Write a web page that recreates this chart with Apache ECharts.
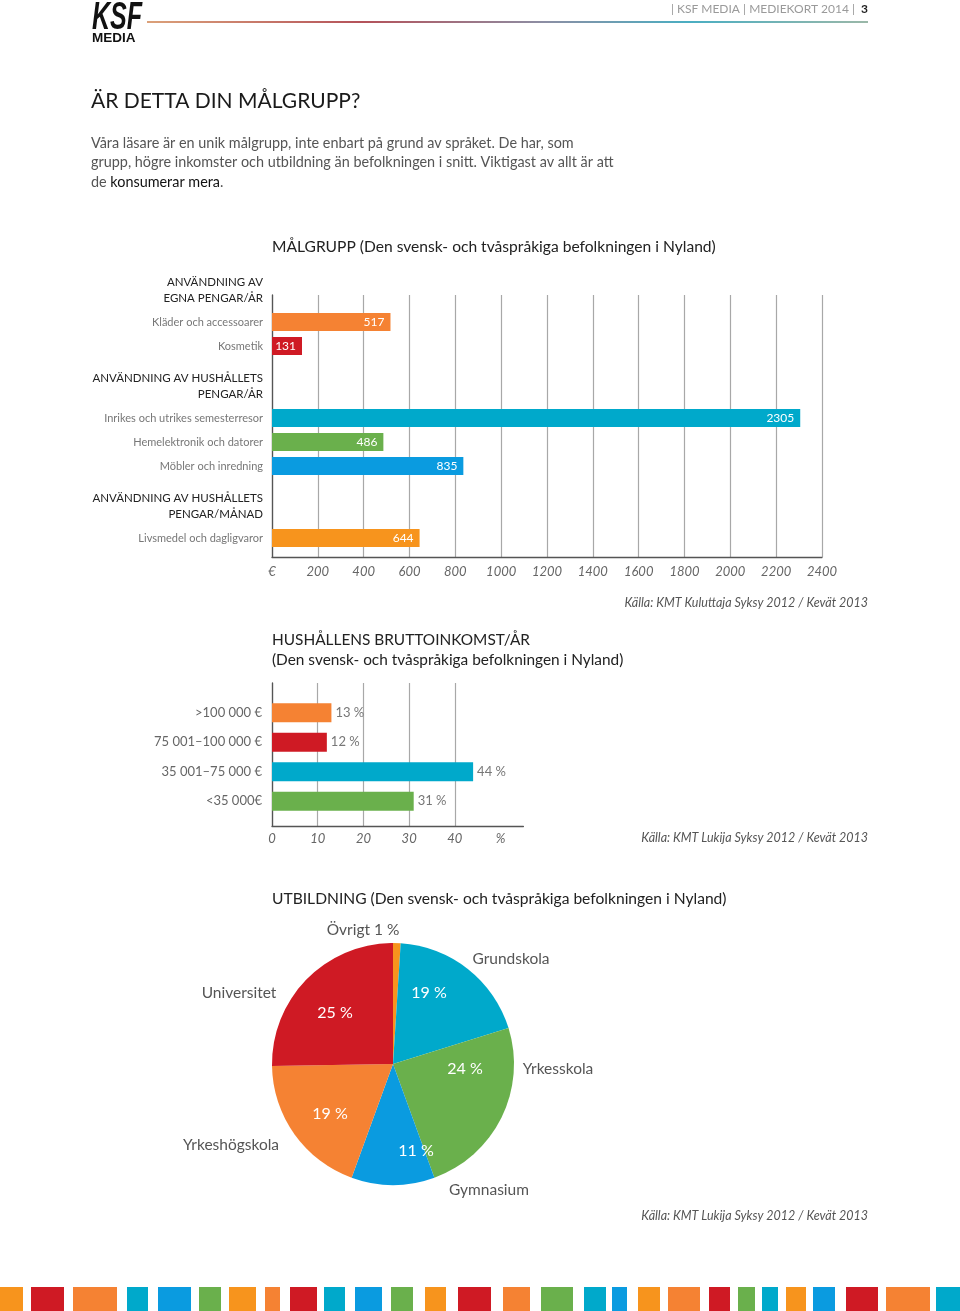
<!DOCTYPE html>
<html><head><meta charset="utf-8">
<script src="https://cdn.jsdelivr.net/npm/echarts@6/dist/echarts.min.js"></script>
<style>html,body{margin:0;padding:0;background:#fff}#c{width:960px;height:1311px}</style>
</head><body><div id="c"></div>
<script>
// ---------- DATA ----------
const spendGroupTitles = ['ANVÄNDNING AV\nEGNA PENGAR/ÅR', 'ANVÄNDNING AV HUSHÅLLETS\nPENGAR/ÅR', 'ANVÄNDNING AV HUSHÅLLETS\nPENGAR/MÅNAD'];
const spendGroupItems = [
  ['Kläder och accessoarer', 'Kosmetik'],
  ['Inrikes och utrikes semesterresor', 'Hemelektronik och datorer', 'Möbler och inredning'],
  ['Livsmedel och dagligvaror']
];
const spendGroupValues = [[517, 131], [2305, 486, 835], [644]];
const spendTicks = [0, 200, 400, 600, 800, 1000, 1200, 1400, 1600, 1800, 2000, 2200, 2400];

const incomeCats = ['>100 000 €', '75 001–100 000 €', '35 001–75 000 €', '<35 000€'];
const incomeVals = [13, 12, 44, 31];
const incomeTicks = ['0', '10', '20', '30', '40', '%'];

const eduNames = ['Övrigt', 'Grundskola', 'Yrkesskola', 'Gymnasium', 'Yrkeshögskola', 'Universitet'];
const eduVals = [1, 19, 24, 11, 19, 25];

// ---------- STYLE ----------
const C = { Y: '#f7941d', R: '#cf1a24', O: '#f58233', T: '#00a9cb', B: '#0a9be0', G: '#6ab04c' };
const spendColors = [[C.O, C.R], [C.T, C.G, C.B], [C.Y]];
const incomeColors = [C.O, C.R, C.T, C.G];
const eduColors = [C.Y, C.T, C.G, C.B, C.O, C.R];
const FONT = 'Lato, "Open Sans", sans-serif';

// pie label placement (offsets from pie centre)
const PIE_C = [393, 1064], PIE_R = 121;
const pieInnerOff = [[0, 0], [36, -71], [72, 5], [23, 87], [-63, 50], [-58, -51]];
const pieOuterOff = [[-30, -134], [118, -105], [165, 5], [96, 126], [-162, 81], [-154, -71]];

// decorative strip at bottom
const strip = [[0,23,'Y'],[31,64,'R'],[73,117,'O'],[127,148,'T'],[158,191,'B'],[199,221,'G'],[229,256,'Y'],[265,280,'O'],[290,317,'R'],[324,345,'T'],[355,382,'B'],[391,413,'G'],[425,446,'Y'],[458,491,'R'],[503,530,'O'],[541,573,'G'],[584,606,'T'],[612,627,'B'],[638,660,'Y'],[668,700,'O'],[709,730,'R'],[738,755,'G'],[762,778,'T'],[786,806,'Y'],[813,835,'B'],[846,878,'R'],[886,930,'O'],[936,960,'T']];

// ---------- BUILD ----------
const spendCats = [], spendData = [];
spendGroupTitles.forEach((t, gi) => {
  if (gi > 0) { spendCats.push(''); spendData.push(null); }
  spendCats.push('#H#' + t); spendData.push(null);
  spendGroupItems[gi].forEach((name, i) => {
    spendCats.push(name);
    spendData.push({ value: spendGroupValues[gi][i], itemStyle: { color: spendColors[gi][i] } });
  });
});

function txt(text, x, y, o) {
  o = o || {};
  return {
    type: 'text', x: x, y: y, silent: true, scaleX: o.scaleX || 1,
    style: {
      text: text, fill: o.fill || '#333', fontSize: o.size || 14, fontFamily: o.family || FONT,
      fontWeight: o.weight || 'normal', fontStyle: o.style || 'normal',
      textAlign: o.align || 'left', textVerticalAlign: 'middle', rich: o.rich
    }
  };
}

const graphics = [
  txt('KSF', 92, 19, { size: 38, weight: 'bold', style: 'italic', family: '"Liberation Sans", Arial', fill: '#111', scaleX: 0.66 }),
  txt('MEDIA', 92, 38, { size: 13.5, weight: 'bold', family: '"Liberation Sans", Arial', fill: '#111' }),
  {
    type: 'text', x: 868, y: 9, silent: true,
    style: { text: '{a|| KSF MEDIA | MEDIEKORT 2014 | }{b|3}', textAlign: 'right', textVerticalAlign: 'middle',
      rich: { a: { fontSize: 12, fill: '#9a9a9a', fontFamily: FONT }, b: { fontSize: 12, fill: '#222', fontWeight: 'bold', fontFamily: FONT, padding: [0, 0, 0, 3] } } }
  },
  {
    type: 'line', silent: true, shape: { x1: 147, y1: 22, x2: 868, y2: 22 },
    style: { lineWidth: 2, stroke: { type: 'linear', x: 0, y: 0, x2: 1, y2: 0, colorStops: [
      { offset: 0, color: '#dca27a' }, { offset: 0.3, color: '#b4525a' }, { offset: 0.55, color: '#8c8ea4' },
      { offset: 0.75, color: '#4aaec2' }, { offset: 1, color: '#9cb8a8' }] } }
  },
  txt('ÄR DETTA DIN MÅLGRUPP?', 91, 101, { size: 21, fill: '#1a1a1a' }),
  txt('Våra läsare är en unik målgrupp, inte enbart på grund av språket. De har, som', 91, 143, { size: 14.4, fill: '#555' }),
  txt('grupp, högre inkomster och utbildning än befolkningen i snitt. Viktigast av allt är att', 91, 162, { size: 14.4, fill: '#555' }),
  {
    type: 'text', x: 91, y: 182, silent: true,
    style: { text: '{a|de }{b|konsumerar mera}{a|.}', textVerticalAlign: 'middle',
      rich: { a: { fontSize: 14.4, fill: '#555', fontFamily: FONT }, b: { fontSize: 14.4, fill: '#111', fontFamily: FONT } } }
  },
  txt('MÅLGRUPP (Den svensk- och tvåspråkiga befolkningen i Nyland)', 272, 247, { size: 15.6, fill: '#222' }),
  txt('Källa: KMT Kuluttaja Syksy 2012 / Kevät 2013', 868, 603, { size: 12.5, fill: '#555', style: 'italic', align: 'right' }),
  txt('HUSHÅLLENS BRUTTOINKOMST/ÅR', 272, 640, { size: 15.4, fill: '#222' }),
  txt('(Den svensk- och tvåspråkiga befolkningen i Nyland)', 272, 660, { size: 15.4, fill: '#222' }),
  txt('Källa: KMT Lukija Syksy 2012 / Kevät 2013', 868, 838, { size: 12.5, fill: '#555', style: 'italic', align: 'right' }),
  txt('UTBILDNING (Den svensk- och tvåspråkiga befolkningen i Nyland)', 272, 899, { size: 15.6, fill: '#222' }),
  txt('Källa: KMT Lukija Syksy 2012 / Kevät 2013', 868, 1216, { size: 12.5, fill: '#555', style: 'italic', align: 'right' })
];
strip.forEach(s => graphics.push({ type: 'rect', silent: true, shape: { x: s[0], y: 1287, width: s[1] - s[0], height: 24 }, style: { fill: C[s[2]] } }));

const tickLbl = { fontStyle: 'italic', color: '#666', fontSize: 13, fontFamily: FONT };

const option = {
  animation: false,
  backgroundColor: '#fff',
  grid: [
    { left: 272, top: 295, width: 550, height: 262 },
    { left: 272, top: 286, width: 550, height: 264 },
    { left: 272, top: 683, width: 251.4, height: 143 },
    { left: 272, top: 683, width: 182.8, height: 143 },
    { left: 272, top: 698, width: 251.4, height: 118 }
  ],
  xAxis: [
    { gridIndex: 0, type: 'value', min: 0, max: 2400, interval: 200,
      axisLine: { show: true, lineStyle: { color: '#555', width: 1.3 } }, axisTick: { show: false },
      splitLine: { show: true, lineStyle: { color: '#a8a8a8', width: 1.2 } },
      axisLabel: Object.assign({ margin: 8, formatter: v => { const i = spendTicks.indexOf(v); return i === 0 ? '€' : (i > 0 ? String(v) : ''); } }, tickLbl) },
    { gridIndex: 1, type: 'value', min: 0, max: 2400, show: false },
    { gridIndex: 2, type: 'value', min: 0, max: 55, interval: 10,
      axisLine: { show: true, lineStyle: { color: '#555', width: 1.3 } }, axisTick: { show: false }, splitLine: { show: false },
      axisLabel: Object.assign({ margin: 6, showMaxLabel: false, formatter: v => { const i = v / 10; return Number.isInteger(i) && incomeTicks[i] !== undefined ? incomeTicks[i] : ''; } }, tickLbl) },
    { gridIndex: 3, type: 'value', min: 0, max: 40, interval: 10,
      axisLine: { show: false }, axisTick: { show: false }, axisLabel: { show: false },
      splitLine: { show: true, lineStyle: { color: '#a8a8a8', width: 1.2 } } },
    { gridIndex: 4, type: 'value', min: 0, max: 55, show: false }
  ],
  yAxis: [
    { gridIndex: 0, type: 'value', min: 0, max: 1, axisLine: { show: true, lineStyle: { color: '#555', width: 1.3 } },
      axisLabel: { show: false }, axisTick: { show: false }, splitLine: { show: false } },
    { gridIndex: 1, type: 'category', inverse: true, data: spendCats,
      axisLine: { show: false }, axisTick: { show: false },
      axisLabel: { interval: 0, hideOverlap: false, margin: 9, color: '#777', fontSize: 11, fontFamily: FONT,
        formatter: v => v.indexOf('#H#') === 0 ? v.slice(3).split('\n').map(s => '{h|' + s + '}').join('\n') + '\n{h| }' : v,
        rich: { h: { color: '#222', fontSize: 11.5, lineHeight: 16, fontFamily: FONT } } } },
    { gridIndex: 2, type: 'value', min: 0, max: 1, axisLine: { show: true, lineStyle: { color: '#555', width: 1.3 } },
      axisLabel: { show: false }, axisTick: { show: false }, splitLine: { show: false } },
    { gridIndex: 3, type: 'value', min: 0, max: 1, show: false },
    { gridIndex: 4, type: 'category', inverse: true, data: incomeCats,
      axisLine: { show: false }, axisTick: { show: false },
      axisLabel: { interval: 0, margin: 10, color: '#666', fontSize: 13, fontFamily: FONT } }
  ],
  series: [
    { type: 'bar', xAxisIndex: 1, yAxisIndex: 1, data: spendData, barWidth: 18, silent: true,
      label: { show: true, position: 'insideRight', distance: 6, color: '#fff', fontSize: 12, fontFamily: FONT,
        formatter: p => p.value == null ? '' : String(p.value) } },
    { type: 'bar', xAxisIndex: 4, yAxisIndex: 4, barWidth: 19, silent: true,
      data: incomeVals.map((v, i) => ({ value: v, itemStyle: { color: incomeColors[i] } })),
      label: { show: true, position: 'right', distance: 4, color: '#777', fontSize: 13, fontFamily: FONT, formatter: '{c} %' } },
    { type: 'pie', center: PIE_C, radius: PIE_R, startAngle: 90, clockwise: true, silent: true,
      data: eduVals.map((v, i) => ({ name: eduNames[i], value: v, itemStyle: { color: eduColors[i] } })),
      label: { show: true, position: 'inside', color: '#fff', fontSize: 16, fontFamily: FONT,
        formatter: p => p.dataIndex === 0 ? '' : p.value + ' %' },
      labelLine: { show: false },
      labelLayout: p => ({ x: PIE_C[0] + pieInnerOff[p.dataIndex][0], y: PIE_C[1] + pieInnerOff[p.dataIndex][1], align: 'center', verticalAlign: 'middle' }) },
    { type: 'pie', center: PIE_C, radius: PIE_R, startAngle: 90, clockwise: true, silent: true,
      data: eduVals.map((v, i) => ({ name: eduNames[i], value: v, itemStyle: { color: 'rgba(0,0,0,0)' } })),
      label: { show: true, position: 'outside', color: '#555', fontSize: 15.5, fontFamily: FONT,
        formatter: p => p.dataIndex === 0 ? p.name + ' ' + p.value + ' %' : p.name },
      labelLine: { show: false },
      labelLayout: p => ({ x: PIE_C[0] + pieOuterOff[p.dataIndex][0], y: PIE_C[1] + pieOuterOff[p.dataIndex][1], align: 'center', verticalAlign: 'middle' }) }
  ],
  graphic: graphics
};
const chart = echarts.init(document.getElementById('c'), null, { renderer: 'canvas' });
chart.setOption(option);
</script></body></html>
